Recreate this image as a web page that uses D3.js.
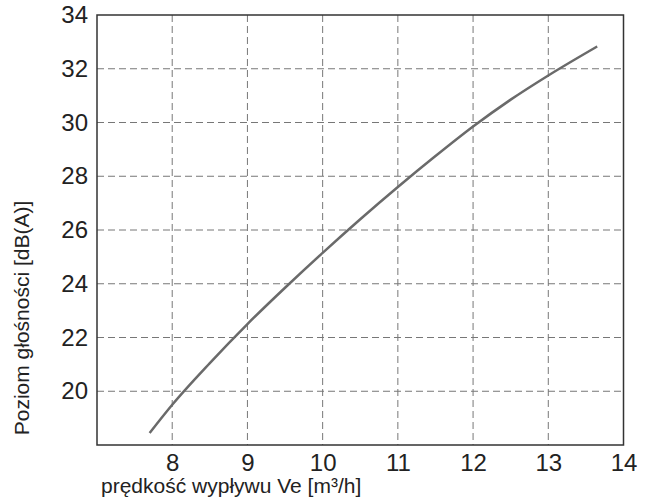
<!DOCTYPE html>
<html>
<head>
<meta charset="utf-8">
<script src="https://cdn.jsdelivr.net/npm/d3@7"></script>
<style>
  body { margin: 0; background: #fff; }
  svg text { font-family: "Liberation Sans", Arial, sans-serif; fill: #222; }
</style>
</head>
<body>
<svg id="chart" width="650" height="504"></svg>
<script>
// curve
const flowRate = [7.7, 8, 8.5, 9, 9.5, 10, 10.5, 11, 11.5, 12, 12.5, 13, 13.65];
const noiseLevel = [18.45, 19.5, 21.05, 22.5, 23.85, 25.15, 26.4, 27.6, 28.75, 29.85, 30.85, 31.75, 32.83];
const xTicks = [8, 9, 10, 11, 12, 13, 14];
const yTicks = [20, 22, 24, 26, 28, 30, 32, 34];

const svg = d3.select('#chart');
const plotL = 97, plotR = 623.5, plotT = 15, plotB = 445;

const x = d3.scaleLinear().domain([7, 14]).range([plotL, plotR]);
const y = d3.scaleLinear().domain([18, 34]).range([plotB, plotT]);

// grid
const grid = svg.append('g')
  .attr('stroke', '#777')
  .attr('stroke-width', 1)
  .attr('stroke-dasharray', '7,4');

grid.selectAll('.vgrid')
  .data(xTicks.filter(d => d < 14))
  .join('line')
  .attr('x1', d => x(d))
  .attr('x2', d => x(d))
  .attr('y1', plotT)
  .attr('y2', plotB);

grid.selectAll('.hgrid')
  .data(yTicks.filter(d => d < 34))
  .join('line')
  .attr('x1', plotL)
  .attr('x2', plotR)
  .attr('y1', d => y(d))
  .attr('y2', d => y(d));

// frame
svg.append('rect')
  .attr('x', plotL)
  .attr('y', plotT)
  .attr('width', plotR - plotL)
  .attr('height', plotB - plotT)
  .attr('fill', 'none')
  .attr('stroke', '#333')
  .attr('stroke-width', 1.5);

// axes (labels only, frame drawn above)
const xAxis = svg.append('g')
  .attr('transform', `translate(0,${plotB})`)
  .call(d3.axisBottom(x).tickValues(xTicks).tickFormat(d3.format('d')).tickSize(0).tickPadding(9));
xAxis.select('.domain').remove();

const yAxis = svg.append('g')
  .attr('transform', `translate(${plotL},0)`)
  .call(d3.axisLeft(y).tickValues(yTicks).tickFormat(d3.format('d')).tickSize(0).tickPadding(9));
yAxis.select('.domain').remove();

svg.selectAll('g').attr('font-family', null).attr('font-size', null);
svg.selectAll('.tick text')
  .style('font-size', '24px')
  .attr('fill', '#222');

// curve
const pts = flowRate.map((v, i) => [v, noiseLevel[i]]);
svg.append('path')
  .datum(pts)
  .attr('fill', 'none')
  .attr('stroke', '#6a6a6a')
  .attr('stroke-width', 2.5)
  .attr('d', d3.line()
    .x(d => x(d[0]))
    .y(d => y(d[1]))
    .curve(d3.curveMonotoneX));

// titles
svg.append('text')
  .attr('x', 101)
  .attr('y', 493)
  .style('font-size', '21px')
  .text('prędkość wypływu Ve [m³/h]');

svg.append('text')
  .attr('transform', 'translate(29,318) rotate(-90)')
  .attr('text-anchor', 'middle')
  .style('font-size', '21px')
  .text('Poziom głośności [dB(A)]');
</script>
</body>
</html>
